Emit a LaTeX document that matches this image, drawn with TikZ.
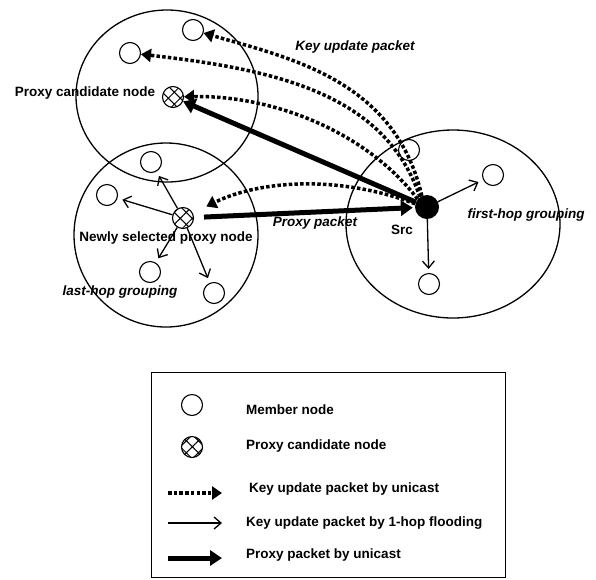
\documentclass[tikz,border=0pt]{standalone}
\usepackage{fontspec}
\setmainfont{Liberation Sans}
\usetikzlibrary{arrows.meta,shapes.geometric,patterns.meta}
\begin{document}
\begin{tikzpicture}[x=1pt,y=-1pt,
  bigc/.style={draw, ellipse, line width=1.3pt, inner sep=0pt},
  member/.style={draw, circle, minimum size=21pt, inner sep=0pt, line width=1.1pt},
  proxyn/.style={draw, circle, minimum size=21pt, inner sep=0pt, line width=1.1pt,
    pattern={Hatch[angle=45,distance=8.5pt,line width=1pt]}},
  srcn/.style={circle, fill=black, minimum size=24pt, inner sep=0pt},
  thinarr/.style={line width=1.3pt, -{Straight Barb[length=7pt,width=12pt,line width=1.3pt]}},
  thickarr/.style={line width=5pt, -{Triangle[length=12pt,width=15pt]}},
  dasharr/.style={line width=3.5pt, dash pattern=on 3.5pt off 2.2pt, -{Triangle[length=10pt,width=13pt]}},
  lbl/.style={font=\fontsize{13.5}{15}\selectfont\bfseries, inner sep=1pt},
  ilbl/.style={font=\fontsize{13.5}{15}\selectfont\bfseries\itshape, inner sep=1pt}]
\useasboundingbox (0,0) rectangle (596,579);

% group circles
\node[bigc, minimum width=182pt, minimum height=172pt] (cA) at (167,96) {};
\node[bigc, minimum width=184pt, minimum height=184pt] (cB) at (166,235) {};
\node[bigc, minimum width=214pt, minimum height=188pt] (cC) at (453,224) {};

% nodes
\node[member] (a1) at (193,30) {};
\node[member] (a2) at (130,53) {};
\node[proxyn] (pc) at (173,97) {};
\node[member] (b1) at (151,162) {};
\node[member] (b2) at (107,195) {};
\node[proxyn] (np) at (183,218) {};
\node[member] (b3) at (150,272) {};
\node[member] (b4) at (214,293) {};
\node[srcn] (src) at (427,207) {};
\node[member] (c1) at (493,175) {};
\node[member] (c2) at (429,284) {};
\node[member] (c3) at (409,150) {};

% key update packets by unicast
\draw[dasharr] (src.115) .. controls (395,80) and (290,58) .. (a1);
\draw[dasharr] (src.125) .. controls (385,95) and (280,70) .. (a2);
\draw[dasharr] (src.140) .. controls (365,130) and (270,95) .. (pc);
\draw[dasharr, shorten >=15pt] (src.165) .. controls (340,175) and (260,180) .. (np);

% proxy packets
\draw[thickarr] (src) -- (pc);
\draw[thickarr, shorten <=10pt, shorten >=2pt] (np) -- (src);

% 1-hop flooding
\draw[thinarr, shorten >=5pt] (np) -- (b1);
\draw[thinarr, shorten >=5pt] (np) -- (b2);
\draw[thinarr, shorten >=5pt] (np) -- (b3);
\draw[thinarr, shorten >=5pt] (np) -- (b4);
\draw[thinarr, shorten >=5pt] (src) -- (c1);
\draw[thinarr, shorten >=4pt] (src) -- (c2);

% labels
\node[ilbl] (lkey) at (355,47) {Key update packet};
\node[lbl] (lpc) at (85,93) {Proxy candidate node};
\node[lbl] (lnp) at (166,238) {Newly selected proxy node};
\node[ilbl] (llast) at (120,292) {last-hop grouping};
\node[ilbl] (lpp) at (315,223) {Proxy packet};
\node[lbl] (lsrc) at (402,230) {Src};
\node[ilbl] (lfirst) at (526,215) {first-hop grouping};

% legend
\node[draw, line width=1pt, minimum width=354pt, minimum height=205pt, inner sep=0pt] (leg) at (328,475) {};
\node[member] (lm) at (192,405) {};
\node[lbl, anchor=west] (lmt) at (245,410) {Member node};
\node[proxyn] (lp) at (192,447) {};
\node[lbl, anchor=west] (lpt) at (245,446) {Proxy candidate node};
\coordinate (ld1) at (168,493);
\coordinate (ld2) at (222,493);
\draw[dasharr] (ld1) -- (ld2);
\node[lbl, anchor=west] (ldt) at (248,489) {Key update packet by unicast};
\coordinate (lt1) at (168,523);
\coordinate (lt2) at (222,523);
\draw[thinarr] (lt1) -- (lt2);
\node[lbl, anchor=west] (ltt) at (245,523) {Key update packet by 1-hop flooding};
\coordinate (lk1) at (168,558);
\coordinate (lk2) at (222,558);
\draw[thickarr] (lk1) -- (lk2);
\node[lbl, anchor=west] (lkt) at (245,555) {Proxy packet by unicast};
\end{tikzpicture}
\end{document}
